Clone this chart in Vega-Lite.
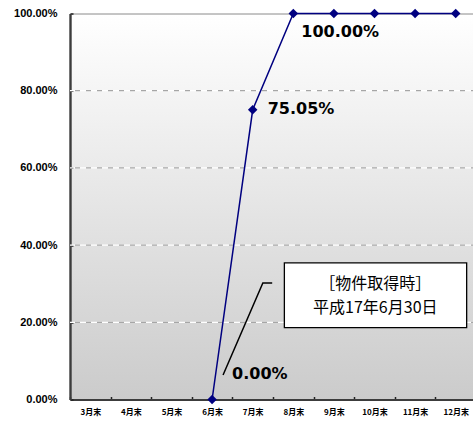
{
  "$schema": "https://vega.github.io/schema/vega-lite/v6.json",
  "width": 406,
  "height": 386,
  "autosize": {"type": "none"},
  "padding": {"left": 70, "top": 13.5, "right": 0, "bottom": 23.5},
  "background": "#ffffff",
  "config": {
    "view": {
      "fill": {
        "gradient": "linear",
        "x1": 0, "y1": 0, "x2": 0, "y2": 1,
        "stops": [
          {"offset": 0, "color": "#ffffff"},
          {"offset": 1, "color": "#cbcbcb"}
        ]
      },
      "stroke": "#8a8a8a",
      "strokeWidth": 1
    }
  },
  "datasets": {
    "occupancy": [
      {"month": "6月末", "rate": 0},
      {"month": "7月末", "rate": 0.7505},
      {"month": "8月末", "rate": 1},
      {"month": "9月末", "rate": 1},
      {"month": "10月末", "rate": 1},
      {"month": "11月末", "rate": 1},
      {"month": "12月末", "rate": 1}
    ],
    "levels": [
      {"level": 0.2},
      {"level": 0.4},
      {"level": 0.6},
      {"level": 0.8}
    ],
    "callout_box": [
      {"left": 7.78, "right": 12.27, "bottom": 0.186, "top": 0.354}
    ],
    "callout_text": [
      {"pos": 10.02, "rate": 0.2984, "text": "［物件取得時］\n平成17年6月30日"}
    ],
    "leader": [
      {"step": 1, "pos": 7.48, "rate": 0.302},
      {"step": 2, "pos": 7.25, "rate": 0.302},
      {"step": 3, "pos": 6.27, "rate": 0.0635}
    ]
  },
  "layer": [
    {
      "data": {"name": "levels"},
      "mark": {"type": "rule", "color": "#ffffff", "strokeWidth": 1.2},
      "encoding": {
        "y": {
          "field": "level",
          "type": "quantitative",
          "title": null,
          "scale": {"domain": [0, 1], "nice": false},
          "axis": {
            "values": [0, 0.2, 0.4, 0.6, 0.8, 1],
            "format": ".2%",
            "grid": false,
            "tickSize": -3,
            "tickWidth": 1.5,
            "tickColor": "#222222",
            "domainColor": "#3c3c3c",
            "domainWidth": 2.4,
            "labelFont": "Liberation Sans",
            "labelFontSize": 11,
            "labelFontWeight": "bold",
            "labelColor": "#000000",
            "labelPadding": 16
          }
        }
      }
    },
    {
      "data": {"name": "levels"},
      "mark": {"type": "rule", "color": "#a6a6a6", "strokeWidth": 1.2, "strokeDash": [5, 6]},
      "encoding": {
        "y": {"field": "level", "type": "quantitative", "title": null, "scale": {"domain": [0, 1], "nice": false}}
      }
    },
    {
      "data": {"name": "occupancy"},
      "encoding": {
        "x": {
          "field": "month",
          "type": "ordinal",
          "sort": ["3月末", "4月末", "5月末", "6月末", "7月末", "8月末", "9月末", "10月末", "11月末", "12月末"],
          "scale": {
            "type": "band",
            "domain": ["3月末", "4月末", "5月末", "6月末", "7月末", "8月末", "9月末", "10月末", "11月末", "12月末"],
            "paddingInner": 0,
            "paddingOuter": 0
          },
          "axis": {
            "title": null,
            "labelAngle": 0,
            "tickBand": "extent",
            "tickSize": -3,
            "tickWidth": 1.5,
            "tickColor": "#222222",
            "domainColor": "#3c3c3c",
            "domainWidth": 2.2,
            "labelFont": "Noto Sans CJK JP",
            "labelFontWeight": "bold",
            "labelFontSize": 8,
            "labelColor": "#000000",
            "labelPadding": 12
          }
        },
        "y": {"field": "rate", "type": "quantitative", "title": null, "scale": {"domain": [0, 1], "nice": false}}
      },
      "layer": [
        {"mark": {"type": "line", "color": "#000080", "strokeWidth": 1.5}},
        {"mark": {"type": "point", "shape": "diamond", "filled": true, "color": "#000080", "opacity": 1, "size": 90}},
        {
          "transform": [{"filter": "datum.month === '8月末'"}],
          "mark": {"type": "text", "align": "left", "baseline": "middle", "dx": 8, "dy": 18, "font": "DejaVu Sans", "fontWeight": "bold", "fontSize": 16, "color": "#000000"},
          "encoding": {"text": {"field": "rate", "type": "quantitative", "format": ".2%"}}
        },
        {
          "transform": [{"filter": "datum.month === '7月末'"}],
          "mark": {"type": "text", "align": "left", "baseline": "middle", "dx": 15, "dy": -1, "font": "DejaVu Sans", "fontWeight": "bold", "fontSize": 16, "color": "#000000"},
          "encoding": {"text": {"field": "rate", "type": "quantitative", "format": ".2%"}}
        },
        {
          "transform": [{"filter": "datum.month === '6月末'"}],
          "mark": {"type": "text", "align": "left", "baseline": "middle", "dx": 20, "dy": -25.5, "font": "DejaVu Sans", "fontWeight": "bold", "fontSize": 16, "color": "#000000"},
          "encoding": {"text": {"field": "rate", "type": "quantitative", "format": ".2%"}}
        }
      ]
    },
    {
      "layer": [
        {
          "data": {"name": "leader"},
          "mark": {"type": "line", "color": "#000000", "strokeWidth": 1.5},
          "encoding": {
            "x": {"field": "pos", "type": "quantitative", "scale": {"domain": [2.5, 12.5], "nice": false, "zero": false}, "axis": null},
            "y": {"field": "rate", "type": "quantitative", "title": null, "scale": {"domain": [0, 1], "nice": false}},
            "order": {"field": "step"}
          }
        },
        {
          "data": {"name": "callout_box"},
          "mark": {"type": "rect", "fill": "#ffffff", "stroke": "#000000", "strokeWidth": 1.3},
          "encoding": {
            "x": {"field": "left", "type": "quantitative", "scale": {"domain": [2.5, 12.5], "nice": false, "zero": false}, "axis": null},
            "x2": {"field": "right"},
            "y": {"field": "bottom", "type": "quantitative", "title": null, "scale": {"domain": [0, 1], "nice": false}},
            "y2": {"field": "top"}
          }
        },
        {
          "data": {"name": "callout_text"},
          "mark": {"type": "text", "align": "center", "baseline": "middle", "lineBreak": "\n", "lineHeight": 23.4, "font": "Noto Sans CJK JP", "fontSize": 16, "color": "#000000"},
          "encoding": {
            "x": {"field": "pos", "type": "quantitative", "scale": {"domain": [2.5, 12.5], "nice": false, "zero": false}, "axis": null},
            "y": {"field": "rate", "type": "quantitative", "title": null, "scale": {"domain": [0, 1], "nice": false}},
            "text": {"field": "text"}
          }
        }
      ]
    }
  ],
  "resolve": {"scale": {"x": "independent"}}
}
